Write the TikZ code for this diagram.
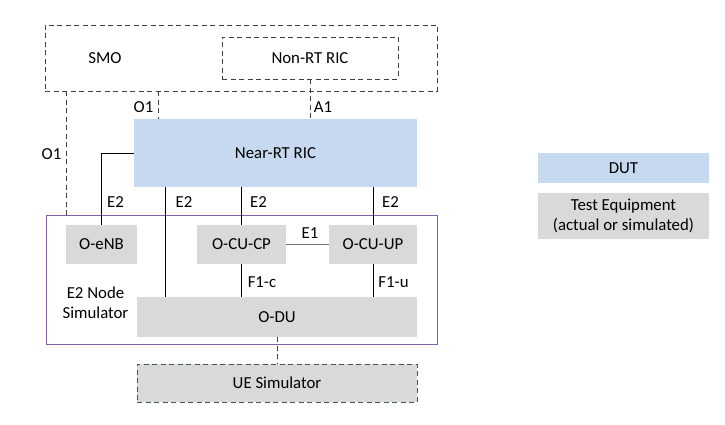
\documentclass[tikz,border=0pt]{standalone}
\usepackage{fontspec}
\setmainfont{Carlito}
\begin{document}
\begin{tikzpicture}[x=1pt, y=-1pt, every node/.style={font=\fontsize{16.8}{20}\selectfont},
    box/.style={draw=none, inner sep=0pt, align=center},
    dashline/.style={draw=black!75, line width=0.9pt, dash pattern=on 5pt off 3.5pt},
    link/.style={draw=black, line width=0.9pt}]
        \definecolor{dutblue}{RGB}{198,217,240}
        \definecolor{testgray}{RGB}{217,217,217}
        \definecolor{simpurple}{RGB}{128,100,162}
        \definecolor{uegreen}{RGB}{62,92,70}
        \useasboundingbox (0,0) rectangle (725,425);
        % management layer
        \node[box, dashline, minimum width=392, minimum height=66] (smo) at (241,58) {};
        \node (smolbl) at (105,58) {SMO};
        \node[box, dashline, minimum width=176, minimum height=42] (nonrt) at (310,58) {Non-RT RIC};
        % device under test
        \node[box, fill=dutblue, minimum width=283, minimum height=68] (nearrt) at (275.5,153) {Near-RT RIC};
        % E2 node simulator
        \node[box, draw=simpurple, line width=1pt, minimum width=391, minimum height=129] (e2sim) at (241.5,279.5) {};
        \node[align=center] (e2simlbl) at (95.5,303) {E2 Node\\Simulator};
        \node[box, fill=testgray, minimum width=71, minimum height=39] (oenb) at (101.5,244.5) {O-eNB};
        \node[box, fill=testgray, minimum width=89, minimum height=39] (cucp) at (241.5,244.5) {O-CU-CP};
        \node[box, fill=testgray, minimum width=88, minimum height=39] (cuup) at (373,244.5) {O-CU-UP};
        \node[box, fill=testgray, minimum width=280, minimum height=40] (odu) at (277,317) {O-DU};
        \node[box, fill=testgray, draw=uegreen, line width=0.9pt, dash pattern=on 5pt off 3.5pt,
              minimum width=280, minimum height=38] (ue) at (277,383) {UE Simulator};
        % legend
        \node[box, fill=dutblue, minimum width=171, minimum height=30] (dut) at (623.5,168) {DUT};
        \node[box, fill=testgray, minimum width=171, minimum height=46] (testeq) at (623.5,216) {Test Equipment\\(actual or simulated)};
        % interfaces
        \coordinate (o1top) at (158,100);
        \coordinate (o1side) at (66,150);
        \coordinate (e2du) at (165,250);
        \draw[dashline] (smo.south -| o1top) -- (nearrt.north -| o1top);
        \draw[dashline] (nonrt.south) -- (nonrt.south |- nearrt.north);
        \draw[dashline] (smo.south -| o1side) -- (e2sim.north -| o1side);
        \draw[link] (nearrt.west) -| (oenb.north);
        \draw[link] (nearrt.south -| e2du) -- (odu.north -| e2du);
        \draw[link] (nearrt.south -| cucp.north) -- (cucp.north);
        \draw[link] (nearrt.south -| cuup.north) -- (cuup.north);
        \draw[draw=black!55, line width=1.2pt] (cucp.east) -- (cuup.west);
        \draw[link] (cucp.south) -- (odu.north -| cucp.south);
        \draw[link] (cuup.south) -- (odu.north -| cuup.south);
        \draw[dashline] (odu.south) -- (ue.north);
        % interface labels
        \node (o1a) at (143.5,107) {O1};
        \node (a1) at (323,107) {A1};
        \node (o1b) at (51.5,154) {O1};
        \node (e2a) at (115.5,202) {E2};
        \node (e2b) at (184,202) {E2};
        \node (e2c) at (258.5,202) {E2};
        \node (e2d) at (390.5,202) {E2};
        \node (e1) at (310,233) {E1};
        \node (f1c) at (262,282) {F1-c};
        \node (f1u) at (393.5,282) {F1-u};
\end{tikzpicture}
\end{document}
